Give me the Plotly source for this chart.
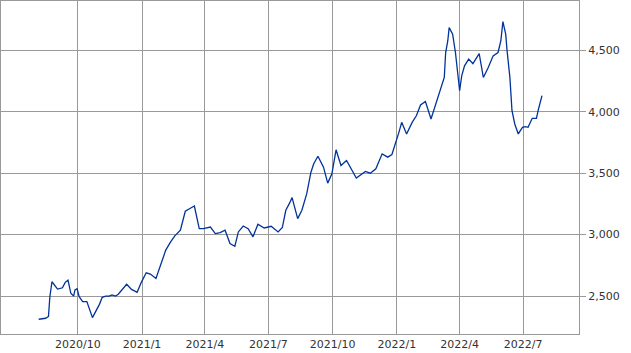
import plotly.graph_objects as go

dates = [
    "2020-08-06", "2020-08-16", "2020-08-20", "2020-08-22", "2020-08-25", "2020-09-02",
    "2020-09-09", "2020-09-13", "2020-09-17", "2020-09-21", "2020-09-25", "2020-09-27",
    "2020-09-30", "2020-10-03", "2020-10-08", "2020-10-14", "2020-10-22", "2020-10-27",
    "2020-11-01", "2020-11-05", "2020-11-10", "2020-11-15", "2020-11-19", "2020-11-24",
    "2020-11-28", "2020-12-10", "2020-12-17", "2020-12-25", "2020-12-31",
    "2021-01-07", "2021-01-13", "2021-01-21", "2021-01-28", "2021-02-04", "2021-02-11",
    "2021-02-17", "2021-02-25", "2021-03-01", "2021-03-04", "2021-03-10", "2021-03-17",
    "2021-03-24", "2021-03-30",
    "2021-04-09", "2021-04-16", "2021-04-23", "2021-04-30", "2021-05-07", "2021-05-14",
    "2021-05-19", "2021-05-26", "2021-06-02", "2021-06-09", "2021-06-16", "2021-06-21",
    "2021-06-25",
    "2021-07-05", "2021-07-15", "2021-07-21", "2021-07-26", "2021-07-31", "2021-08-04",
    "2021-08-12", "2021-08-18", "2021-08-25", "2021-08-31", "2021-09-04", "2021-09-10",
    "2021-09-18", "2021-09-24", "2021-09-30",
    "2021-10-03", "2021-10-06", "2021-10-13", "2021-10-21", "2021-11-04", "2021-11-17",
    "2021-11-24", "2021-12-02", "2021-12-11", "2021-12-19", "2021-12-25", "2021-12-30",
    "2022-01-04", "2022-01-08", "2022-01-13", "2022-01-15", "2022-01-23", "2022-01-29",
    "2022-02-04", "2022-02-11", "2022-02-19", "2022-02-25", "2022-03-04", "2022-03-10",
    "2022-03-12", "2022-03-15", "2022-03-17", "2022-03-22", "2022-03-26", "2022-03-29",
    "2022-04-01",
    "2022-04-04", "2022-04-08", "2022-04-14", "2022-04-20", "2022-04-29", "2022-05-05",
    "2022-05-12", "2022-05-19", "2022-05-26", "2022-05-30", "2022-06-02", "2022-06-06",
    "2022-06-08", "2022-06-12", "2022-06-15", "2022-06-19", "2022-06-24", "2022-06-30",
    "2022-07-04", "2022-07-08", "2022-07-14", "2022-07-20", "2022-07-23", "2022-07-28",
]

values = [
    2312, 2320, 2335, 2495, 2617, 2557,
    2568, 2612, 2630, 2523, 2500, 2550,
    2560, 2495, 2455, 2455, 2325, 2373,
    2433, 2490, 2500, 2500, 2510, 2500,
    2515, 2596, 2555, 2531, 2612,
    2690, 2679, 2644, 2766, 2874, 2941,
    2990, 3036, 3130, 3190, 3211, 3233,
    3049, 3049,
    3062, 3009, 3017, 3036, 2928, 2906,
    3022, 3070, 3049, 2982, 3084, 3068,
    3054,
    3068, 3022, 3058, 3198, 3252, 3301,
    3130, 3198, 3333, 3508, 3576, 3638,
    3549, 3419, 3495,
    3603, 3690, 3562, 3603, 3460, 3514,
    3500, 3536, 3657, 3630, 3652, 3738,
    3832, 3913, 3840, 3819, 3913, 3967,
    4054, 4083, 3941, 4049, 4170, 4278,
    4481, 4575, 4683, 4630, 4481, 4319,
    4170,
    4292, 4373, 4427, 4391, 4472, 4278,
    4359, 4454, 4481, 4575, 4732, 4630,
    4494, 4278, 4008, 3900, 3819, 3873,
    3878, 3873, 3946, 3946, 4022, 4130,
]

x_tick_vals = ["2020-10-01", "2021-01-01", "2021-04-01", "2021-07-01",
               "2021-10-01", "2022-01-01", "2022-04-01", "2022-07-01"]
x_tick_text = ["2020/10", "2021/1", "2021/4", "2021/7",
               "2021/10", "2022/1", "2022/4", "2022/7"]
y_tick_vals = [2500, 3000, 3500, 4000, 4500]

fig = go.Figure()
fig.add_trace(go.Scatter(
    x=dates, y=values, mode="lines",
    line=dict(color="#003399", width=1.3),
    hoverinfo="skip", showlegend=False,
))

grid = "#999999"
fig.update_layout(
    width=631, height=353,
    margin=dict(l=1, r=52, t=1, b=19),
    paper_bgcolor="white", plot_bgcolor="white",
    font=dict(family="DejaVu Sans", size=11, color="#333333"),
    xaxis=dict(
        type="date",
        range=["2020-06-13", "2022-09-19"],
        tickmode="array", tickvals=x_tick_vals, ticktext=x_tick_text,
        showgrid=True, gridcolor=grid, gridwidth=1,
        showline=True, linecolor=grid, linewidth=1, mirror=True,
        ticks="", zeroline=False,
    ),
    yaxis=dict(
        side="right",
        range=[2192, 4900],
        tickmode="array", tickvals=y_tick_vals, tickformat=",",
        showgrid=True, gridcolor=grid, gridwidth=1,
        showline=True, linecolor=grid, linewidth=1, mirror=True,
        ticks="outside", ticklen=6, tickcolor=grid, tickwidth=1,
        zeroline=False,
    ),
)

fig.write_html("out.html")
